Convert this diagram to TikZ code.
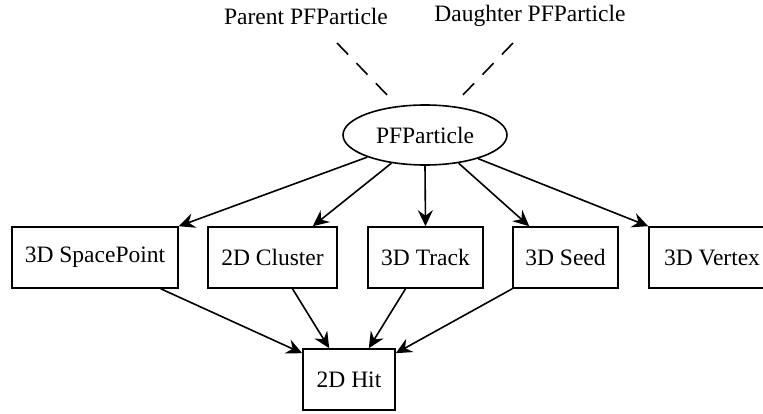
\documentclass[tikz,border=0pt]{standalone}
\usepackage{fontspec}
\setmainfont{Liberation Serif}
\usetikzlibrary{arrows.meta,shapes.geometric}
\begin{document}
\begin{tikzpicture}[x=1pt,y=-1pt,
  every node/.style={font=\fontsize{23.5}{28}\selectfont, inner sep=0pt},
  box/.style={draw, line width=1.6pt, minimum height=61pt},
  lbl/.style={},
  arr/.style={line width=1.6pt, -{Stealth[length=16pt,width=15pt,inset=5.5pt]}},
  dsh/.style={line width=1.6pt, dash pattern=on 16pt off 12pt}]
\useasboundingbox (0,0) rectangle (763,414);
\clip (0,0) rectangle (763,414);
\node[lbl] (par) at (306,16) {Parent PFParticle};
\node[lbl] (dau) at (530,16) {Daughter PFParticle};
\coordinate (pe) at (337,43);
\coordinate (pf1) at (390,98);
\coordinate (de) at (513,43);
\coordinate (pf2) at (460,98);
\node[draw, ellipse, line width=1.6pt, minimum width=164pt, minimum height=60pt] (pf) at (425,135) {PFParticle};
\node[box, minimum width=166pt] (sp) at (95,257.5) {3D SpacePoint};
\node[box, minimum width=129pt] (cl) at (272.5,257.5) {2D Cluster};
\node[box, minimum width=115pt] (tr) at (425.5,257.5) {3D Track};
\node[box, minimum width=105pt] (se) at (565.5,257.5) {3D Seed};
\node[box, minimum width=126pt] (vx) at (712,257.5) {3D Vertex};
\node[box, minimum width=92pt] (hit) at (349,379.5) {2D Hit};
\draw[dsh] (pe) -- (pf1);
\draw[dsh] (de) -- (pf2);
\draw[arr] (pf.201) -- (sp.north east);
\draw[arr] (pf.220) -- ([xshift=-25pt]cl.north east);
\draw[arr] (pf.270) -- (tr.north);
\draw[arr] (pf.320) -- ([xshift=17pt]se.north west);
\draw[arr] (pf.336) -- (vx.north west);
\draw[arr] ([xshift=-18pt]sp.south east) -- ([yshift=-5pt]hit.north west);
\draw[arr] ([xshift=20pt]cl.south) -- ([xshift=27pt]hit.north west);
\draw[arr] ([xshift=-20pt]tr.south) -- ([xshift=-27pt]hit.north east);
\draw[arr] (se.south west) -- ([yshift=-5pt]hit.north east);
\end{tikzpicture}
\end{document}
